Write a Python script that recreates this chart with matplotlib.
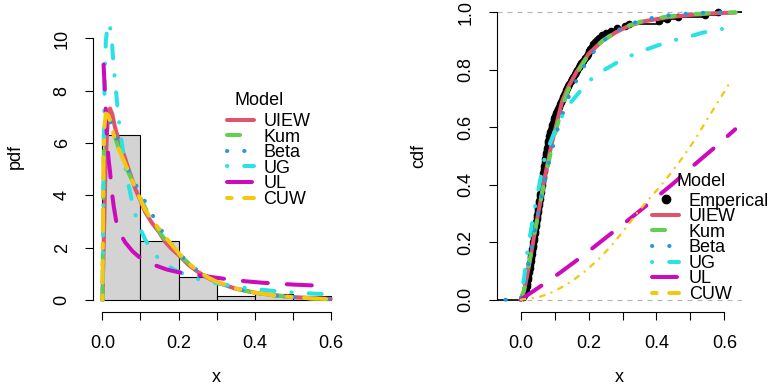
import numpy as np
import matplotlib.pyplot as plt
from matplotlib.lines import Line2D

plt.rcParams['font.family'] = ['Liberation Sans', 'DejaVu Sans']
plt.rcParams['font.size'] = 13
plt.rcParams['lines.scale_dashes'] = False

# observed sample (n = 125)
sample = [
    0.008, 0.011, 0.013, 0.015, 0.017, 0.018, 0.019, 0.020, 0.021, 0.022,
    0.023, 0.024, 0.025, 0.026, 0.027, 0.028, 0.029, 0.030, 0.031, 0.032,
    0.033, 0.034, 0.035, 0.036, 0.037, 0.038, 0.039, 0.040, 0.041, 0.042,
    0.043, 0.044, 0.045, 0.046, 0.047, 0.048, 0.049, 0.050, 0.051, 0.052,
    0.053, 0.054, 0.055, 0.056, 0.057, 0.058, 0.059, 0.060, 0.061, 0.062,
    0.063, 0.064, 0.065, 0.066, 0.067, 0.068, 0.069, 0.070, 0.071, 0.072,
    0.073, 0.074, 0.075, 0.076, 0.077, 0.078, 0.079, 0.080, 0.081, 0.082,
    0.083, 0.085, 0.087, 0.089, 0.091, 0.093, 0.095, 0.097, 0.099,
    0.101, 0.104, 0.107, 0.110, 0.113, 0.116, 0.119, 0.122, 0.125, 0.128,
    0.131, 0.134, 0.137, 0.140, 0.143, 0.147, 0.151, 0.155, 0.159,
    0.163, 0.167, 0.171, 0.175, 0.179, 0.184, 0.189, 0.194, 0.198,
    0.202, 0.205, 0.209, 0.213, 0.218, 0.224, 0.232, 0.241, 0.252, 0.266, 0.283,
    0.306, 0.318,
    0.408, 0.431, 0.464,
    0.542, 0.581,
]
bin_edges = [0, 0.1, 0.2, 0.3, 0.4, 0.5, 0.6]

models = ["UIEW", "Kum", "Beta", "UG", "UL", "CUW"]
colors = ["#DF536B", "#61D04F", "#2297E6", "#28E2E5", "#CD0BBC", "#F5C710"]

# fitted densities
uiew_pdf_x = [0, 0.004, 0.008, 0.012, 0.016, 0.02, 0.026, 0.033, 0.04, 0.051, 0.06, 0.068,
              0.077, 0.086, 0.1, 0.112, 0.13, 0.15, 0.165, 0.18, 0.2, 0.225, 0.25, 0.275,
              0.3, 0.35, 0.4, 0.45, 0.5, 0.55, 0.6]
uiew_pdf_y = [0, 2.5, 5.0, 6.4, 7.1, 7.32, 7.1, 6.6, 6.25, 5.79, 5.4, 5.03,
              4.65, 4.26, 3.8, 3.37, 2.95, 2.57, 2.22, 1.98, 1.72, 1.36, 1.08, 0.86,
              0.68, 0.43, 0.28, 0.18, 0.11, 0.07, 0.04]
kum_pdf_x = [0, 0.001, 0.002, 0.004, 0.007, 0.012, 0.02, 0.03, 0.045, 0.06, 0.08, 0.1,
             0.12, 0.14, 0.16, 0.18, 0.2, 0.25, 0.3, 0.35, 0.4, 0.45, 0.5, 0.55, 0.6]
kum_pdf_y = [0, 1.5, 3.5, 5.8, 6.8, 7.0, 6.8, 6.35, 5.7, 5.15, 4.5, 3.9,
             3.3, 2.8, 2.4, 2.05, 1.75, 1.1, 0.69, 0.44, 0.28, 0.18, 0.11, 0.06, 0.03]
beta_pdf_x = [0, 0.002, 0.005, 0.01, 0.015, 0.025, 0.04, 0.06, 0.08, 0.1, 0.121, 0.143,
              0.166, 0.19, 0.22, 0.25, 0.3, 0.35, 0.4, 0.45, 0.5, 0.55, 0.6]
beta_pdf_y = [0, 3.0, 6.0, 6.9, 7.0, 6.7, 6.0, 5.2, 4.6, 4.09, 3.53, 2.95,
              2.41, 1.98, 1.5, 1.12, 0.7, 0.44, 0.28, 0.18, 0.11, 0.06, 0.03]
ug_pdf_x = [0, 0.002, 0.004, 0.006, 0.009, 0.013, 0.018, 0.024, 0.029, 0.035,
            0.042, 0.05, 0.06, 0.07, 0.08, 0.09, 0.1, 0.112, 0.125, 0.14,
            0.155, 0.17, 0.19, 0.204, 0.23, 0.25, 0.28, 0.3, 0.335, 0.37,
            0.4, 0.44, 0.475, 0.52, 0.56, 0.6]
ug_pdf_y = [0, 3.0, 6.5, 8.6, 9.9, 10.45, 10.6, 10.1, 9.0, 8.1,
            7.0, 6.1, 5.1, 4.3, 3.6, 3.1, 2.7, 2.32, 2.0, 1.7,
            1.5, 1.33, 1.15, 1.06, 0.9, 0.8, 0.7, 0.64, 0.55, 0.48,
            0.42, 0.36, 0.31, 0.27, 0.24, 0.22]
ul_pdf_x = [0.003, 0.006, 0.009, 0.012, 0.016, 0.02, 0.025, 0.03, 0.038, 0.05, 0.06,
            0.08, 0.1, 0.13, 0.17, 0.215, 0.26, 0.3, 0.34, 0.38, 0.42, 0.465, 0.5,
            0.546, 0.6]
ul_pdf_y = [9.0, 8.1, 7.2, 6.1, 5.4, 4.9, 4.1, 3.55, 2.86, 2.45, 2.2,
            1.85, 1.6, 1.37, 1.16, 1.01, 0.93, 0.85, 0.77, 0.71, 0.66, 0.62, 0.59,
            0.56, 0.54]
cuw_pdf_x = [0, 0.001, 0.002, 0.003, 0.005, 0.009, 0.016, 0.025, 0.033, 0.042, 0.051,
             0.06, 0.068, 0.08, 0.095, 0.112, 0.13, 0.15, 0.165, 0.18, 0.2, 0.225,
             0.25, 0.275, 0.3, 0.35, 0.4, 0.45, 0.5, 0.55, 0.6]
cuw_pdf_y = [0, 2.0, 4.0, 5.6, 6.6, 7.13, 7.05, 6.6, 6.1, 5.8, 5.5,
             5.2, 4.9, 4.5, 4.0, 3.45, 3.05, 2.7, 2.41, 2.15, 1.8, 1.42,
             1.12, 0.88, 0.7, 0.44, 0.28, 0.18, 0.11, 0.06, 0.03]

# fitted distribution functions
uiew_cdf_x = [0, 0.01, 0.02, 0.03, 0.04, 0.05, 0.06, 0.07, 0.08, 0.09, 0.1, 0.122, 0.14,
              0.166, 0.2, 0.24, 0.28, 0.313, 0.36, 0.43, 0.5, 0.56, 0.633]
uiew_cdf_y = [0, 0.03, 0.09, 0.155, 0.225, 0.29, 0.355, 0.42, 0.48, 0.535, 0.585, 0.69, 0.74,
              0.795, 0.855, 0.9, 0.93, 0.95, 0.968, 0.982, 0.991, 0.996, 0.999]
kum_cdf_x = [0, 0.01, 0.02, 0.03, 0.04, 0.05, 0.06, 0.07, 0.08, 0.09, 0.1, 0.122, 0.14,
             0.166, 0.2, 0.24, 0.28, 0.313, 0.36, 0.43, 0.5, 0.56, 0.633]
kum_cdf_y = [0, 0.035, 0.095, 0.16, 0.225, 0.288, 0.35, 0.41, 0.465, 0.52, 0.57, 0.67, 0.73,
             0.79, 0.852, 0.9, 0.932, 0.952, 0.97, 0.985, 0.993, 0.997, 1.0]
beta_cdf_x = [-0.045, 0, 0.01, 0.019, 0.028, 0.046, 0.056, 0.068, 0.082, 0.102, 0.117,
              0.149, 0.171, 0.195, 0.225, 0.262, 0.308, 0.358, 0.41, 0.47, 0.53, 0.59]
beta_cdf_y = [0, 0, 0.04, 0.1, 0.16, 0.27, 0.33, 0.4, 0.47, 0.567, 0.625,
              0.73, 0.776, 0.83, 0.878, 0.92, 0.953, 0.973, 0.986, 0.994, 0.998, 1.0]
ug_cdf_x = [0, 0.005, 0.01, 0.02, 0.03, 0.04, 0.05, 0.06, 0.07, 0.08, 0.09, 0.1, 0.12,
            0.15, 0.184, 0.215, 0.254, 0.3, 0.345, 0.392, 0.441, 0.495, 0.539, 0.593]
ug_cdf_y = [0, 0.04, 0.075, 0.17, 0.24, 0.31, 0.37, 0.43, 0.49, 0.525, 0.555, 0.585, 0.635,
            0.69, 0.738, 0.776, 0.805, 0.836, 0.86, 0.88, 0.9, 0.915, 0.93, 0.942]
ul_cdf_x = [0, 0.07, 0.116, 0.18, 0.25, 0.317, 0.381, 0.45, 0.514, 0.578, 0.632]
ul_cdf_y = [0, 0.056, 0.094, 0.15, 0.215, 0.277, 0.338, 0.405, 0.472, 0.536, 0.593]
cuw_cdf_x = [0, 0.05, 0.086, 0.116, 0.155, 0.194, 0.235, 0.273, 0.31, 0.342, 0.375,
             0.41, 0.445, 0.479, 0.515, 0.548, 0.585, 0.622]
cuw_cdf_y = [0, 0.008, 0.022, 0.04, 0.068, 0.103, 0.147, 0.196, 0.25, 0.3, 0.346,
             0.393, 0.444, 0.498, 0.56, 0.625, 0.695, 0.767]

pdf_curves = [(uiew_pdf_x, uiew_pdf_y), (kum_pdf_x, kum_pdf_y), (beta_pdf_x, beta_pdf_y),
              (ug_pdf_x, ug_pdf_y), (ul_pdf_x, ul_pdf_y), (cuw_pdf_x, cuw_pdf_y)]
cdf_curves = [(uiew_cdf_x, uiew_cdf_y), (kum_cdf_x, kum_cdf_y), (beta_cdf_x, beta_cdf_y),
              (ug_cdf_x, ug_cdf_y), (ul_cdf_x, ul_cdf_y), (cuw_cdf_x, cuw_cdf_y)]

# R style line types (solid, dashed, dotted, dotdash, longdash, twodash), in points
LW = 2.9
dashes = ['-', (0, (9.4, 15.1)), (0, (0.2, 12.2)), (0, (0.2, 12.2, 9.4, 12.2)),
          (0, (18.0, 13.7)), (0, (3.3, 9.1, 15.8, 9.1))]

def style(i, lw=LW):
    return dict(color=colors[i], lw=lw, linestyle=dashes[i],
                dash_capstyle='round', solid_capstyle='round')

W, H = 774, 385
fig = plt.figure(figsize=(W / 100, H / 100), dpi=100)

def px_axes(x0, x1, ytop, ybot):
    return fig.add_axes([x0 / W, 1 - ybot / H, (x1 - x0) / W, (ybot - ytop) / H])

ax1 = px_axes(93.3, 340, 0, 312)
ax2 = px_axes(497, 742, 0, 312)

def r_axes(ax, xt, xl, yt, yl):
    for s in ['top', 'right']:
        ax.spines[s].set_visible(False)
    for s in ['left', 'bottom']:
        ax.spines[s].set_linewidth(0.8)
    ax.spines['bottom'].set_bounds(xt[0], xt[-1])
    ax.spines['left'].set_bounds(yt[0], yt[-1])
    ax.set_xticks(xt, xl)
    ax.set_yticks(yt, yl)
    ax.tick_params(direction='out', length=5.8, width=0.8, pad=10.5)
    ax.tick_params(axis='y', labelrotation=90)
    plt.setp(ax.get_yticklabels(), va='center')

def r_legend(ax, hs, labels, left, row_mid, title_xy):
    # legend rows without a frame, title placed on its own like R does
    ax.legend(hs, labels, frameon=False, loc='center left',
              bbox_to_anchor=(left / W, 1 - row_mid / H), bbox_transform=fig.transFigure,
              borderpad=0, borderaxespad=0, handlelength=1.51, handletextpad=0.52,
              labelspacing=-0.08, fontsize=13)
    fig.text(title_xy[0] / W, 1 - title_xy[1] / H, 'Model', ha='center', va='center',
             fontsize=13)

# left: histogram and densities
ax1.hist(sample, bins=bin_edges, density=True, facecolor='#D3D3D3',
         edgecolor='black', lw=0.8)
for i in range(len(models)):
    ax1.plot(pdf_curves[i][0], pdf_curves[i][1], **style(i))
ax1.set_xlim(-0.024, 0.6244)
ax1.set_ylim(-0.46, 11.47)
r_axes(ax1, [0, 0.1, 0.2, 0.3, 0.4, 0.5, 0.6], ['0.0', '', '0.2', '', '0.4', '', '0.6'],
       [0, 2, 4, 6, 8, 10], ['0', '2', '4', '6', '8', '10'])
ax1.set_xlabel('x')
ax1.xaxis.set_label_coords(0.5, -0.2115)
ax1.xaxis.label.set_va('center')
ax1.set_ylabel('pdf')
ax1.yaxis.set_label_coords(-0.317, 0.5)
ax1.yaxis.label.set_va('center')

handles = [Line2D([], [], **style(i)) for i in range(len(models))]
r_legend(ax1, handles, models, 226.7, 160.5, (259, 100.3))

# right: empirical and fitted cdfs
xlo, xhi = -0.0698, 0.652
xs = np.sort(sample)
Fn = np.arange(1, len(xs) + 1) / len(xs)
ax2.axhline(0, color='#B3B3B3', lw=0.8, linestyle=(0, (3.6, 3.6)))
ax2.axhline(1, color='#B3B3B3', lw=0.8, linestyle=(0, (3.6, 3.6)))
ax2.hlines(0, xlo, xs[0], color='black', lw=1.2)
ax2.hlines(Fn, xs, np.append(xs[1:], xhi), color='black', lw=1.2)
ax2.plot(xs, Fn, 'o', color='black', ms=4.5)
for i in range(len(models)):
    if models[i] == 'CUW':
        ax2.plot(cdf_curves[i][0], cdf_curves[i][1], color=colors[i], lw=1.65,
                 linestyle=(0, (3.4, 5.3, 0.15, 5.3)), dash_capstyle='round')
    else:
        ax2.plot(cdf_curves[i][0], cdf_curves[i][1], **style(i))
ax2.set_xlim(xlo, xhi)
ax2.set_ylim(-0.0428, 1.0428)
r_axes(ax2, [0, 0.1, 0.2, 0.3, 0.4, 0.5, 0.6], ['0.0', '', '0.2', '', '0.4', '', '0.6'],
       [0, 0.2, 0.4, 0.6, 0.8, 1.0], ['0.0', '0.2', '0.4', '0.6', '0.8', '1.0'])
ax2.set_xlabel('x')
ax2.xaxis.set_label_coords(0.5, -0.2115)
ax2.xaxis.label.set_va('center')
ax2.set_ylabel('cdf')
ax2.yaxis.set_label_coords(-0.318, 0.5)
ax2.yaxis.label.set_va('center')

handles2 = [Line2D([], [], color='black', marker='o', ls='none', ms=6)] + handles
r_legend(ax2, handles2, ['Emperical'] + models, 652, 247.85, (700.8, 181))

fig.savefig('out.png', dpi=100)
